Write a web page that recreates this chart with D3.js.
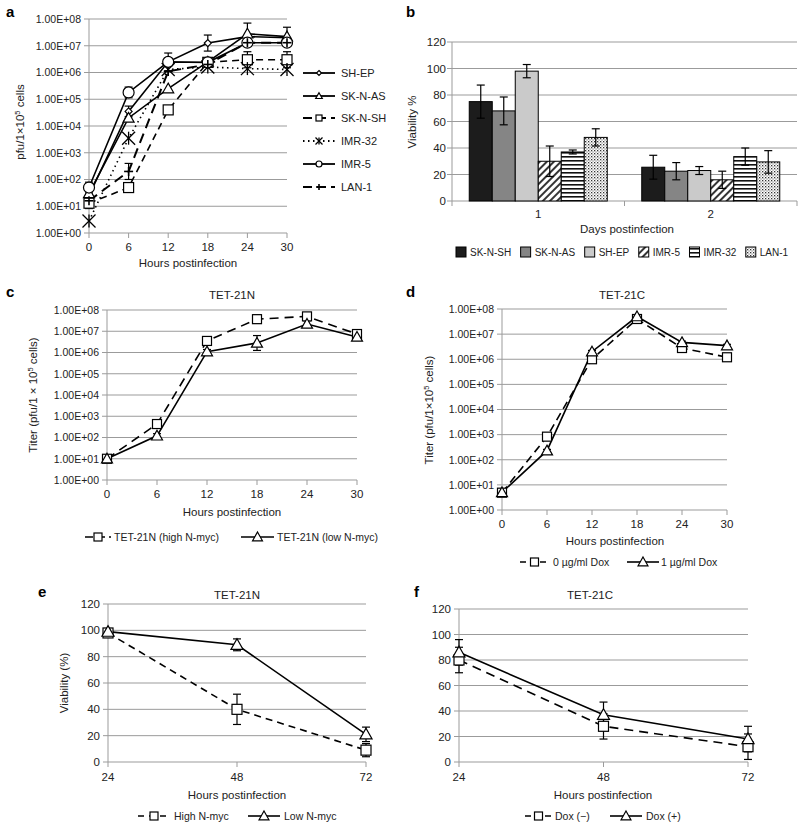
<!DOCTYPE html>
<html><head><meta charset="utf-8">
<script src="https://cdn.jsdelivr.net/npm/d3@7"></script>
<style>
body{margin:0;background:#fff;}
text{font-family:"Liberation Sans",Arial,Helvetica,sans-serif;fill:#222;}
</style>
</head><body>
<svg id="fig" width="800" height="825" xmlns="http://www.w3.org/2000/svg"></svg>
<script>
// ---------------- DATA ----------------
const hours = [0, 6, 12, 18, 24, 30];
const logTicks = [1, 10, 100, 1e3, 1e4, 1e5, 1e6, 1e7, 1e8];
const logTickLabels = ["1.00E+00","1.00E+01","1.00E+02","1.00E+03","1.00E+04","1.00E+05","1.00E+06","1.00E+07","1.00E+08"];

// panel a (pfu per 1e5 cells); errors in decades
const aNames = ["SH-EP", "SK-N-AS", "SK-N-SH", "IMR-32", "IMR-5", "LAN-1"];
const aSHEP   = [25, 3.5e4, 2.5e6, 1.26e7, 2.2e7, 2.0e7];
const aSKNAS  = [30, 2.0e4, 2.5e5, 2.5e6, 2.8e7, 2.2e7];
const aSKNSH  = [13, 50, 4.0e4, 2.4e6, 3.0e6, 3.0e6];
const aIMR32  = [2.8, 3.5e3, 1.3e6, 1.6e6, 1.4e6, 1.3e6];
const aIMR5   = [50, 1.8e5, 2.5e6, 2.4e6, 1.3e7, 1.3e7];
const aLAN1   = [16, 200, 1.1e6, 2.0e6, 1.3e7, 1.3e7];
const aSHEPErr  = [0.3, 0.2, 0, 0.3, 0, 0];
const aSKNASErr = [0, 0, 0, 0, 0.4, 0.35];
const aSKNSHErr = [0.2, 0, 0, 0, 0.3, 0.3];
const aIMR32Err = [0, 0, 0, 0, 0, 0];
const aIMR5Err  = [0.2, 0.2, 0.33, 0, 0, 0];
const aLAN1Err  = [0, 0.3, 0, 0, 0, 0];

// panel b (viability %)
const bDays = ["1", "2"];
const bNames = ["SK-N-SH", "SK-N-AS", "SH-EP", "IMR-5", "IMR-32", "LAN-1"];
const bDay1 = [75, 68, 98, 30, 37, 48];
const bDay2 = [25.5, 22.5, 23, 16, 33.5, 29.5];
const bDay1Err = [12.5, 10.5, 5, 11.5, 1.5, 6.5];
const bDay2Err = [9, 6.5, 3, 6.5, 6.5, 8.5];
const bTicks = [0, 20, 40, 60, 80, 100, 120];

// panel c TET-21N
const cNames = ["TET-21N (high N-myc)", "TET-21N (low N-myc)"];
const cHigh = [10, 430, 3.5e6, 3.7e7, 5.0e7, 7.4e6];
const cLow  = [10, 120, 1.1e6, 2.8e6, 2.2e7, 5.4e6];
const cHighErr = [0.15, 0.1, 0.1, 0.2, 0.1, 0.1];
const cLowErr  = [0.15, 0.1, 0.1, 0.35, 0.15, 0.1];

// panel d TET-21C
const dNames = ["0 \u00b5g/ml Dox", "1 \u00b5g/ml Dox"];
const d0  = [4.9, 830, 1.0e6, 4.0e7, 2.8e6, 1.2e6];
const d1  = [5.0, 230, 2.0e6, 5.0e7, 4.7e6, 3.5e6];
const d0Err = [0.15, 0.05, 0.05, 0.05, 0.05, 0.05];
const d1Err = [0.15, 0.05, 0.05, 0.05, 0.05, 0.05];

// panel e / f (viability %)
const efHours = [24, 48, 72];
const efTicks = [0, 20, 40, 60, 80, 100, 120];
const eNames = ["High N-myc", "Low N-myc"];
const eHigh = [98, 40, 9];
const eLow  = [99, 89, 21];
const eHighErr = [1.5, 11.5, 5];
const eLowErr  = [1.5, 4.5, 5.5];
const fNames = ["Dox (\u2212)", "Dox (+)"];
const fMinus = [80, 28, 12];
const fPlus  = [86, 37, 18];
const fMinusErr = [10, 10, 10];
const fPlusErr  = [10, 10, 10];

// ---------------- DRAWING ----------------
const svg = d3.select("#fig");
const GRID = "#9b9b9b";

function text(g, x, y, s, size, anchor, extra) {
  const t = g.append("text").attr("x", x).attr("y", y).attr("font-size", size)
    .attr("text-anchor", anchor || "start").text(s);
  if (extra) extra(t);
  return t;
}

function marker(g, type, x, y, s) {
  const sw = 1.2;
  if (type === "square") {
    g.append("rect").attr("x", x - s/2).attr("y", y - s/2).attr("width", s).attr("height", s)
      .attr("fill", "#fff").attr("stroke", "#000").attr("stroke-width", sw);
  } else if (type === "triangle") {
    g.append("path").attr("d", `M${x},${y - s*0.55}L${x + s*0.55},${y + s*0.42}L${x - s*0.55},${y + s*0.42}Z`)
      .attr("fill", "#fff").attr("stroke", "#000").attr("stroke-width", sw);
  } else if (type === "circle") {
    g.append("circle").attr("cx", x).attr("cy", y).attr("r", s/2)
      .attr("fill", "#fff").attr("stroke", "#000").attr("stroke-width", sw);
  } else if (type === "diamond") {
    g.append("path").attr("d", `M${x},${y - s/2}L${x + s/2},${y}L${x},${y + s/2}L${x - s/2},${y}Z`)
      .attr("fill", "#fff").attr("stroke", "#000").attr("stroke-width", sw);
  } else if (type === "asterisk") {
    const h = s/2;
    [[-h,-h,h,h],[h,-h,-h,h],[0,-h,0,h]].forEach(a =>
      g.append("line").attr("x1", x+a[0]).attr("y1", y+a[1]).attr("x2", x+a[2]).attr("y2", y+a[3])
        .attr("stroke", "#000").attr("stroke-width", 1.3));
  } else if (type === "plus") {
    const h = s/2;
    [[-h,0,h,0],[0,-h,0,h]].forEach(a =>
      g.append("line").attr("x1", x+a[0]).attr("y1", y+a[1]).attr("x2", x+a[2]).attr("y2", y+a[3])
        .attr("stroke", "#000").attr("stroke-width", 1.6));
  }
}

function legendItem(g, x1, x2, y, type, dash, msize, label, tx, fs, width) {
  g.append("line").attr("x1", x1).attr("x2", x2).attr("y1", y).attr("y2", y)
    .attr("stroke", "#000").attr("stroke-width", width || 1.6).attr("stroke-dasharray", dash || null);
  marker(g, type, (x1 + x2)/2, y, msize);
  text(g, tx, y + 4, label, fs, "start");
}

function yTitle(g, x, y, parts, size) {
  const t = g.append("text").attr("transform", `translate(${x},${y}) rotate(-90)`)
    .attr("text-anchor", "middle").attr("font-size", size);
  parts.forEach(p => {
    const ts = t.append("tspan").text(p.t);
    if (p.sup) ts.attr("baseline-shift", "super").attr("font-size", size * 0.65);
  });
}

// Log titer panel
function logPanel(cfg) {
  const g = svg.append("g");
  const x = d3.scaleLinear().domain([0, 30]).range([cfg.x0, cfg.x1]);
  const y = d3.scaleLog().domain([1, 1e8]).range([cfg.yb, cfg.yt]);
  g.selectAll(".grid").data(logTicks).join("line")
    .attr("x1", cfg.x0).attr("x2", cfg.x1).attr("y1", d => y(d)).attr("y2", d => y(d))
    .attr("stroke", GRID).attr("stroke-width", 1);
  g.append("line").attr("x1", cfg.x0).attr("x2", cfg.x0).attr("y1", cfg.yt).attr("y2", cfg.yb)
    .attr("stroke", GRID).attr("stroke-width", 1);
  g.selectAll(".yt").data(logTicks).join("line")
    .attr("x1", cfg.x0 - 5).attr("x2", cfg.x0).attr("y1", d => y(d)).attr("y2", d => y(d))
    .attr("stroke", GRID);
  g.selectAll(".yl").data(logTicks).join("text")
    .attr("x", cfg.x0 - 8).attr("y", d => y(d) + 3.8).attr("text-anchor", "end")
    .attr("font-size", 10.5).text((d, i) => logTickLabels[i]);
  g.selectAll(".xt").data(hours).join("line")
    .attr("x1", d => x(d)).attr("x2", d => x(d)).attr("y1", cfg.yb).attr("y2", cfg.yb + 5)
    .attr("stroke", GRID);
  g.selectAll(".xl").data(hours).join("text")
    .attr("x", d => x(d)).attr("y", cfg.yb + 18).attr("text-anchor", "middle")
    .attr("font-size", 11.5).text(d => d);
  const line = d3.line().x((d, i) => x(hours[i])).y(d => y(d));
  cfg.series.forEach(s => {
    g.append("path").attr("d", line(s.vals)).attr("fill", "none").attr("stroke", "#000")
      .attr("stroke-width", s.width || 1.6).attr("stroke-dasharray", s.dash || null);
  });
  cfg.series.forEach(s => {
    s.vals.forEach((v, i) => {
      const e = s.err[i];
      if (!e) return;
      const up = y(v * Math.pow(10, e)), dn = y(v / Math.pow(10, e)), cx = x(hours[i]);
      g.append("line").attr("x1", cx).attr("x2", cx).attr("y1", up).attr("y2", dn).attr("stroke", "#000").attr("stroke-width", 1.2);
      [up, dn].forEach(yy => g.append("line").attr("x1", cx - 4).attr("x2", cx + 4).attr("y1", yy).attr("y2", yy).attr("stroke", "#000").attr("stroke-width", 1.2));
    });
  });
  cfg.series.forEach(s => {
    s.vals.forEach((v, i) => marker(g, s.type, x(hours[i]), y(v), s.size));
  });
  return g;
}

// Linear viability panel
function linPanel(cfg) {
  const g = svg.append("g");
  const x = d3.scaleLinear().domain([24, 72]).range([cfg.x0, cfg.x1]);
  const y = d3.scaleLinear().domain([0, 120]).range([cfg.yb, cfg.yt]);
  g.selectAll(".grid").data(efTicks).join("line")
    .attr("x1", cfg.x0).attr("x2", cfg.x1).attr("y1", d => y(d)).attr("y2", d => y(d))
    .attr("stroke", GRID);
  g.append("line").attr("x1", cfg.x0).attr("x2", cfg.x0).attr("y1", cfg.yt).attr("y2", cfg.yb).attr("stroke", GRID);
  g.selectAll(".yt").data(efTicks).join("line")
    .attr("x1", cfg.x0 - 5).attr("x2", cfg.x0).attr("y1", d => y(d)).attr("y2", d => y(d)).attr("stroke", GRID);
  g.selectAll(".yl").data(efTicks).join("text")
    .attr("x", cfg.x0 - 8).attr("y", d => y(d) + 4).attr("text-anchor", "end")
    .attr("font-size", 11.5).text(d => d);
  g.selectAll(".xt").data(efHours).join("line")
    .attr("x1", d => x(d)).attr("x2", d => x(d)).attr("y1", cfg.yb).attr("y2", cfg.yb + 5).attr("stroke", GRID);
  g.selectAll(".xl").data(efHours).join("text")
    .attr("x", d => x(d)).attr("y", cfg.yb + 19).attr("text-anchor", "middle")
    .attr("font-size", 11.5).text(d => d);
  const line = d3.line().x((d, i) => x(efHours[i])).y(d => y(d));
  cfg.series.forEach(s => {
    g.append("path").attr("d", line(s.vals)).attr("fill", "none").attr("stroke", "#000")
      .attr("stroke-width", 1.6).attr("stroke-dasharray", s.dash || null);
  });
  cfg.series.forEach(s => {
    s.vals.forEach((v, i) => {
      const e = s.err[i];
      const cx = x(efHours[i]), up = y(v + e), dn = y(v - e);
      g.append("line").attr("x1", cx).attr("x2", cx).attr("y1", up).attr("y2", dn).attr("stroke", "#000").attr("stroke-width", 1.2);
      [up, dn].forEach(yy => g.append("line").attr("x1", cx - 4).attr("x2", cx + 4).attr("y1", yy).attr("y2", yy).attr("stroke", "#000").attr("stroke-width", 1.2));
    });
  });
  cfg.series.forEach(s => {
    s.vals.forEach((v, i) => marker(g, s.type, x(efHours[i]), y(v), s.size));
  });
  return g;
}

// ---- panel labels
[["a", 6, 17], ["b", 406, 17], ["c", 6, 297], ["d", 406, 297], ["e", 38, 597], ["f", 414, 597]].forEach(p =>
  text(svg, p[1], p[2], p[0], 15, "start", t => t.attr("font-weight", "bold").style("fill", "#000")));

// ---- Panel a
const aSeries = [
  {vals: aSHEP, err: aSHEPErr, type: "diamond", size: 7, dash: null},
  {vals: aSKNAS, err: aSKNASErr, type: "triangle", size: 10, dash: null},
  {vals: aSKNSH, err: aSKNSHErr, type: "square", size: 10, dash: "7,5"},
  {vals: aIMR32, err: aIMR32Err, type: "asterisk", size: 13, dash: "1.5,3.5"},
  {vals: aIMR5, err: aIMR5Err, type: "circle", size: 11, dash: null},
  {vals: aLAN1, err: aLAN1Err, type: "plus", size: 9, dash: "10,6", width: 2}
];
logPanel({x0: 89, x1: 287, yt: 19, yb: 233, series: aSeries});
text(svg, 188, 267, "Hours postinfection", 11.5, "middle");
yTitle(svg, 24, 122, [{t: "pfu/1\u00d710"}, {t: "5", sup: true}, {t: " cells"}], 11.5);
const aLegY = [73, 96, 118, 141, 164, 187];
const aLegG = svg.append("g");
aNames.forEach((n, i) => {
  const s = aSeries[i];
  legendItem(aLegG, 303, 335, aLegY[i], s.type, i === 3 ? "1.5,3.5" : (i === 2 || i === 5 ? "9,5" : null),
    s.type === "asterisk" ? 7 : (s.type === "diamond" ? 5 : 6), n, 341, 11, 1.8);
});

// ---- Panel b
(function () {
  const g = svg.append("g");
  const x0 = d3.scaleBand().domain(bDays).range([452, 797]).paddingInner(0.2).paddingOuter(0.1);
  const x1 = d3.scaleBand().domain(bNames).range([0, x0.bandwidth()]);
  const y = d3.scaleLinear().domain([0, 120]).range([201, 42]);
  const defs = svg.append("defs");
  const p1 = defs.append("pattern").attr("id", "hatch").attr("width", 5).attr("height", 5)
    .attr("patternUnits", "userSpaceOnUse").attr("patternTransform", "rotate(45)");
  p1.append("rect").attr("width", 5).attr("height", 5).attr("fill", "#fff");
  p1.append("line").attr("x1", 1).attr("x2", 1).attr("y1", 0).attr("y2", 5).attr("stroke", "#111").attr("stroke-width", 1.7);
  const p2 = defs.append("pattern").attr("id", "hstripe").attr("width", 4).attr("height", 4).attr("patternUnits", "userSpaceOnUse");
  p2.append("rect").attr("width", 4).attr("height", 4).attr("fill", "#fff");
  p2.append("rect").attr("y", 0).attr("width", 4).attr("height", 1.6).attr("fill", "#111");
  const p3 = defs.append("pattern").attr("id", "dots").attr("width", 3).attr("height", 3).attr("patternUnits", "userSpaceOnUse");
  p3.append("rect").attr("width", 3).attr("height", 3).attr("fill", "#fff");
  p3.append("rect").attr("x", 0).attr("y", 0).attr("width", 1.3).attr("height", 1.3).attr("fill", "#333");
  p3.append("rect").attr("x", 1.5).attr("y", 1.5).attr("width", 1.1).attr("height", 1.1).attr("fill", "#666");
  const fills = ["#1c1c1c", "#858585", "#cacaca", "url(#hatch)", "url(#hstripe)", "url(#dots)"];

  g.selectAll(".grid").data(bTicks).join("line")
    .attr("x1", 452).attr("x2", 797).attr("y1", d => y(d)).attr("y2", d => y(d)).attr("stroke", GRID);
  g.append("line").attr("x1", 452).attr("x2", 452).attr("y1", 42).attr("y2", 201).attr("stroke", GRID);
  g.selectAll(".yt").data(bTicks).join("line")
    .attr("x1", 447).attr("x2", 452).attr("y1", d => y(d)).attr("y2", d => y(d)).attr("stroke", GRID);
  g.selectAll(".yl").data(bTicks).join("text")
    .attr("x", 446).attr("y", d => y(d) + 4).attr("text-anchor", "end").attr("font-size", 11.5).text(d => d);
  [452, 624.5, 797].forEach(xx => g.append("line").attr("x1", xx).attr("x2", xx).attr("y1", 201).attr("y2", 206).attr("stroke", GRID));
  g.selectAll(".xl").data(bDays).join("text")
    .attr("x", d => x0(d) + x0.bandwidth()/2).attr("y", 218).attr("text-anchor", "middle")
    .attr("font-size", 11.5).text(d => d);
  const rows = [bDay1, bDay2], errs = [bDay1Err, bDay2Err];
  bDays.forEach((day, di) => {
    bNames.forEach((n, si) => {
      const v = rows[di][si], e = errs[di][si];
      const bx = x0(day) + x1(n), bw = x1.bandwidth();
      g.append("rect").attr("x", bx).attr("y", y(v)).attr("width", bw).attr("height", y(0) - y(v))
        .attr("fill", fills[si]).attr("stroke", "#000").attr("stroke-width", 1);
      const cx = bx + bw/2;
      g.append("line").attr("x1", cx).attr("x2", cx).attr("y1", y(v + e)).attr("y2", y(v - e)).attr("stroke", "#000").attr("stroke-width", 1.2);
      [v + e, v - e].forEach(vv => g.append("line").attr("x1", cx - 4).attr("x2", cx + 4).attr("y1", y(vv)).attr("y2", y(vv)).attr("stroke", "#000").attr("stroke-width", 1.2));
    });
  });
  text(svg, 627, 233, "Days postinfection", 11.5, "middle");
  yTitle(svg, 416, 122, [{t: "Viability %"}], 11.5);
  // legend: laid out sequentially from measured text widths
  let lx = 456;
  bNames.forEach((n, i) => {
    g.append("rect").attr("x", lx).attr("y", 247).attr("width", 10).attr("height", 10)
      .attr("fill", fills[i]).attr("stroke", "#000").attr("stroke-width", 1);
    const t = text(g, lx + 14, 256, n, 10, "start");
    lx += 14 + t.node().getComputedTextLength() + 9.5;
  });
})();

// ---- Panel c
logPanel({x0: 107, x1: 357, yt: 310, yb: 480, series: [
  {vals: cHigh, err: cHighErr, type: "square", size: 9, dash: "9,6"},
  {vals: cLow, err: cLowErr, type: "triangle", size: 10, dash: null}
]});
text(svg, 232, 299, "TET-21N", 11.5, "middle");
text(svg, 232, 516, "Hours postinfection", 11.5, "middle");
yTitle(svg, 37, 395, [{t: "Titer (pfu/1 \u00d7 10"}, {t: "5", sup: true}, {t: " cells)"}], 11.5);
legendItem(svg, 85, 111, 537, "square", "8,4", 8, cNames[0], 114, 10.5);
legendItem(svg, 241, 274, 537, "triangle", null, 9, cNames[1], 277, 10.5);

// ---- Panel d
logPanel({x0: 502, x1: 727, yt: 309, yb: 510, series: [
  {vals: d0, err: d0Err, type: "square", size: 9, dash: "8,5"},
  {vals: d1, err: d1Err, type: "triangle", size: 10, dash: null}
]});
text(svg, 622, 299, "TET-21C", 11.5, "middle");
text(svg, 615, 545, "Hours postinfection", 11.5, "middle");
yTitle(svg, 433, 410, [{t: "Titer (pfu/1\u00d710"}, {t: "5", sup: true}, {t: " cells)"}], 11.5);
legendItem(svg, 520, 549, 562, "square", "6,4", 8, dNames[0], 553, 10.5);
legendItem(svg, 627, 659, 562, "triangle", null, 9, dNames[1], 661, 10.5);

// ---- Panel e
linPanel({x0: 108, x1: 366, yt: 604, yb: 762, series: [
  {vals: eHigh, err: eHighErr, type: "square", size: 10, dash: "7,5"},
  {vals: eLow, err: eLowErr, type: "triangle", size: 11, dash: null}
]});
text(svg, 237, 599, "TET-21N", 11.5, "middle");
text(svg, 237, 799, "Hours postinfection", 11.5, "middle");
yTitle(svg, 68, 683, [{t: "Viability (%)"}], 11.5);
legendItem(svg, 138, 170, 816, "square", "6,5", 8, eNames[0], 174, 10.5);
legendItem(svg, 248, 280, 816, "triangle", null, 9, eNames[1], 284, 10.5);

// ---- Panel f
linPanel({x0: 459, x1: 748, yt: 609, yb: 762, series: [
  {vals: fMinus, err: fMinusErr, type: "square", size: 10, dash: "9,6"},
  {vals: fPlus, err: fPlusErr, type: "triangle", size: 11, dash: null}
]});
text(svg, 590, 599, "TET-21C", 11.5, "middle");
text(svg, 603, 799, "Hours postinfection", 11.5, "middle");
legendItem(svg, 525, 552, 816, "square", "6,4", 8, fNames[0], 555, 10.5);
legendItem(svg, 610, 642, 816, "triangle", null, 9, fNames[1], 646, 10.5);
</script>
</body></html>
